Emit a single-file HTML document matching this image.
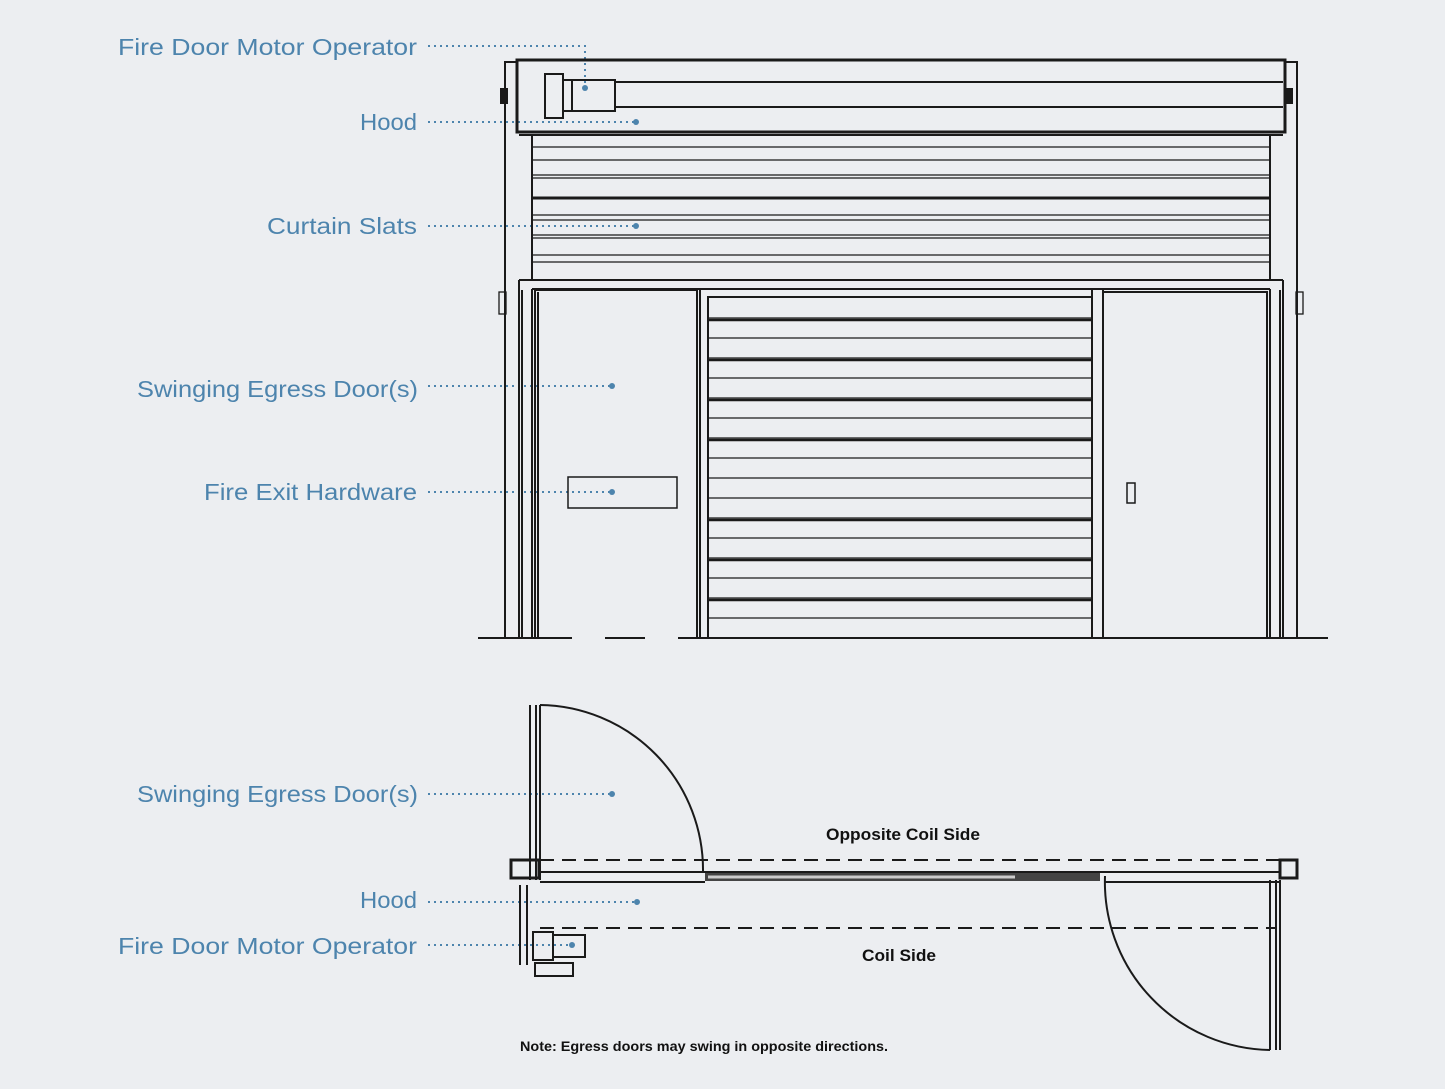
<!DOCTYPE html>
<html><head><style>
body{margin:0;background:#eceef1;}
svg{display:block}
.l{font-family:"Liberation Sans",sans-serif;font-size:23px;fill:#4d84ad;text-anchor:start}
.s{font-family:"Liberation Sans",sans-serif;fill:#111;text-anchor:start;font-weight:bold}
.d{stroke:#4d84ad;stroke-width:2;stroke-dasharray:2 4;fill:none}
.k{stroke:#1a1a1a;fill:none;stroke-width:2}
.t{stroke:#1a1a1a;fill:none;stroke-width:1.3}
</style></head><body>
<svg width="1445" height="1089" viewBox="0 0 1445 1089">
<rect width="1445" height="1089" fill="#eceef1"/>
<!-- labels -->
<text class="l" x="118" y="55" textLength="299" lengthAdjust="spacingAndGlyphs">Fire Door Motor Operator</text>
<text class="l" x="360" y="130" textLength="57" lengthAdjust="spacingAndGlyphs">Hood</text>
<text class="l" x="267" y="234" textLength="150" lengthAdjust="spacingAndGlyphs">Curtain Slats</text>
<text class="l" x="137" y="397" textLength="281" lengthAdjust="spacingAndGlyphs">Swinging Egress Door(s)</text>
<text class="l" x="204" y="500" textLength="213" lengthAdjust="spacingAndGlyphs">Fire Exit Hardware</text>
<text class="l" x="137" y="802" textLength="281" lengthAdjust="spacingAndGlyphs">Swinging Egress Door(s)</text>
<text class="l" x="360" y="908" textLength="57" lengthAdjust="spacingAndGlyphs">Hood</text>
<text class="l" x="118" y="954" textLength="299" lengthAdjust="spacingAndGlyphs">Fire Door Motor Operator</text>
<g class="d">
<path d="M428 46H585V88"/><path d="M428 122H636"/><path d="M428 226H636"/><path d="M428 386H612"/><path d="M428 492H612"/>
<path d="M428 794H612"/><path d="M428 902H637"/><path d="M428 945H572"/>
</g>
<g fill="#4d84ad"><circle cx="585" cy="88" r="3"/><circle cx="636" cy="122" r="3"/><circle cx="636" cy="226" r="3"/><circle cx="612" cy="386" r="3"/><circle cx="612" cy="492" r="3"/><circle cx="612" cy="794" r="3"/><circle cx="637" cy="902" r="3"/><circle cx="572" cy="945" r="3"/></g>
<!-- elevation -->
<g class="k">
<path d="M505 638V62H517M1297 638V62H1285"/>
<path d="M519 638V280M522 638V290M532 638V289"/>
<path d="M1283 638V280M1280 638V290M1270 638V289"/>
<rect x="517" y="60" width="768" height="72" stroke-width="3"/>
<path d="M615 82H1283M615 107H1283M519 135H1283"/>
<rect x="545" y="74" width="18" height="44"/><rect x="563" y="80" width="52" height="31"/><path d="M572 80V111"/>
<path d="M532 135V280M1270 135V280M519 280H1283M532 289H1270"/>
<path d="M535 638V290H697V638M538 638V292M700 638V289M708 638V297H1092V638M1092 289V638M1103 638V289M1103 292H1267V638"/>
<path d="M478 638H572M605 638H645M678 638H1328"/>
<rect x="568" y="477" width="109" height="31" stroke-width="1.5"/>
<rect x="1127" y="483" width="8" height="20" stroke-width="1.5"/>
</g>
<g class="t">
<path d="M532 147H1270M532 160H1270M532 175H1270M532 178H1270M532 215H1270M532 220H1270M532 235H1270M532 238H1270M532 255H1270M532 262H1270"/>
<path d="M532 198H1270" stroke-width="3"/>
</g>
<g class="t">
<path d="M708 318H1092M708 338H1092M708 358H1092M708 378H1092M708 398H1092M708 418H1092M708 438H1092M708 458H1092M708 478H1092M708 498H1092M708 518H1092M708 538H1092M708 558H1092M708 578H1092M708 598H1092M708 618H1092"/>
<path d="M708 320H1092M708 360H1092M708 400H1092M708 440H1092M708 520H1092M708 560H1092M708 600H1092" stroke-width="2.5"/>
</g>
<rect x="500" y="88" width="8" height="16" fill="#1a1a1a"/><rect x="1285" y="88" width="8" height="16" fill="#1a1a1a"/>
<rect x="499" y="292" width="7" height="22" class="t"/><rect x="1296" y="292" width="7" height="22" class="t"/>
<!-- plan -->
<g class="k">
<path d="M540 860H1282M540 928H1275" stroke-dasharray="14 8"/>
<rect x="511" y="860" width="28" height="18" stroke-width="3"/><rect x="1280" y="860" width="17" height="18" stroke-width="3"/>
<path d="M540 872H1280M540 882H705M1105 882H1280"/>
<path d="M530 705V880M536 705V880M540 705V880"/>
<path d="M540 705A165 165 0 0 1 703 872"/>
<path d="M1270 880V1050M1276 880V1050M1280 880V1050"/>
<path d="M1105 876A168 168 0 0 0 1270 1050"/>
<path d="M520 885V965M527 885V965"/>
<rect x="533" y="932" width="20" height="28"/><rect x="553" y="935" width="32" height="22"/><rect x="535" y="963" width="38" height="13"/>
</g>
<path d="M705 877H1100" stroke="#444" stroke-width="8"/>
<path d="M708 877H1015" stroke="#ccc" stroke-width="3"/>
<text class="s" x="826" y="840" font-size="17" textLength="154" lengthAdjust="spacingAndGlyphs">Opposite Coil Side</text>
<text class="s" x="862" y="961" font-size="17" textLength="74" lengthAdjust="spacingAndGlyphs">Coil Side</text>
<text class="s" x="520" y="1051" font-size="14" textLength="368" lengthAdjust="spacingAndGlyphs">Note: Egress doors may swing in opposite directions.</text>
</svg>
</body></html>
